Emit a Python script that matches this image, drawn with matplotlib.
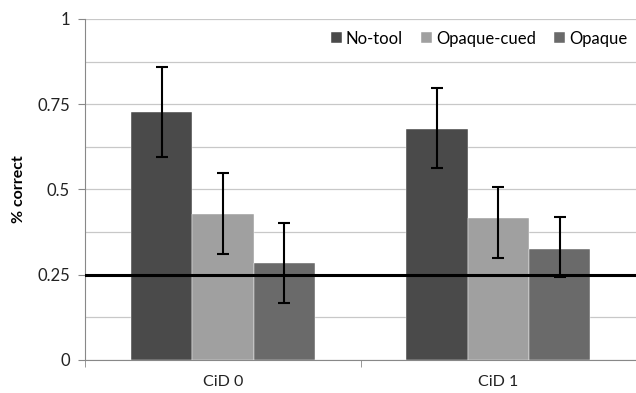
import numpy as np
import matplotlib.pyplot as plt
from matplotlib.ticker import MultipleLocator

# data
groups = ["CiD 0", "CiD 1"]
conditions = ["No-tool", "Opaque-cued", "Opaque"]
means = {
    "No-tool": [0.727, 0.677],
    "Opaque-cued": [0.428, 0.416],
    "Opaque": [0.285, 0.325],
}
err_low = {
    "No-tool": [0.595, 0.563],
    "Opaque-cued": [0.311, 0.299],
    "Opaque": [0.168, 0.243],
}
err_high = {
    "No-tool": [0.859, 0.798],
    "Opaque-cued": [0.549, 0.507],
    "Opaque": [0.403, 0.419],
}
chance = 0.25

colors = {"No-tool": "#4a4a4a", "Opaque-cued": "#a0a0a0", "Opaque": "#6a6a6a"}

plt.rcParams["font.family"] = ["Lato", "DejaVu Sans"]

fig = plt.figure(figsize=(6.36, 3.93), dpi=100)
ax = fig.add_axes([0.134, 0.084, 0.866, 0.868])

x = np.arange(len(groups))
width = 0.223
for i, cond in enumerate(conditions):
    pos = x + (i - 1) * width
    m = np.array(means[cond])
    lo = m - np.array(err_low[cond])
    hi = np.array(err_high[cond]) - m
    ax.bar(pos, m, width, color=colors[cond], label=cond, zorder=2,
           edgecolor="white", linewidth=0.3)
    ax.errorbar(pos, m, yerr=[lo, hi], fmt="none", ecolor="black",
                elinewidth=1.5, capsize=4, capthick=1.5, zorder=3)

ax.axhline(chance, color="black", linewidth=2.2, zorder=4)

ax.set_xlim(-0.5, 1.5)
ax.set_ylim(0, 1)
ax.set_xticks(x)
ax.set_xticklabels(groups, fontsize=11.5, color="#222222")
ax.set_xticks([-0.5, 0.5, 1.5], minor=True)
ax.tick_params(axis="x", which="major", length=0, pad=11)
ax.tick_params(axis="x", which="minor", length=5, color="#888888")

ax.yaxis.set_minor_locator(MultipleLocator(0.125))
ax.set_yticks([0, 0.25, 0.5, 0.75, 1])
ax.set_yticklabels(["0", "0.25", "0.5", "0.75", "1"], fontsize=12, color="#222222")
ax.tick_params(axis="y", which="major", length=5, color="#888888", pad=6)
ax.tick_params(axis="y", which="minor", length=0)
ax.grid(axis="y", which="both", color="#c8c8c8", linewidth=0.9, zorder=0)
ax.set_axisbelow(True)

for side in ["top", "right"]:
    ax.spines[side].set_visible(False)
for side in ["left", "bottom"]:
    ax.spines[side].set_color("#888888")

ax.set_ylabel("% correct", fontsize=11.5, fontweight="bold", labelpad=8)

ax.legend(loc="upper right", bbox_to_anchor=(1.0, 0.99), ncol=3, frameon=False,
          fontsize=12, handlelength=0.65, handleheight=0.65, handletextpad=0.25,
          columnspacing=1.1, borderaxespad=0.1)

fig.savefig("out.png", dpi=100)
